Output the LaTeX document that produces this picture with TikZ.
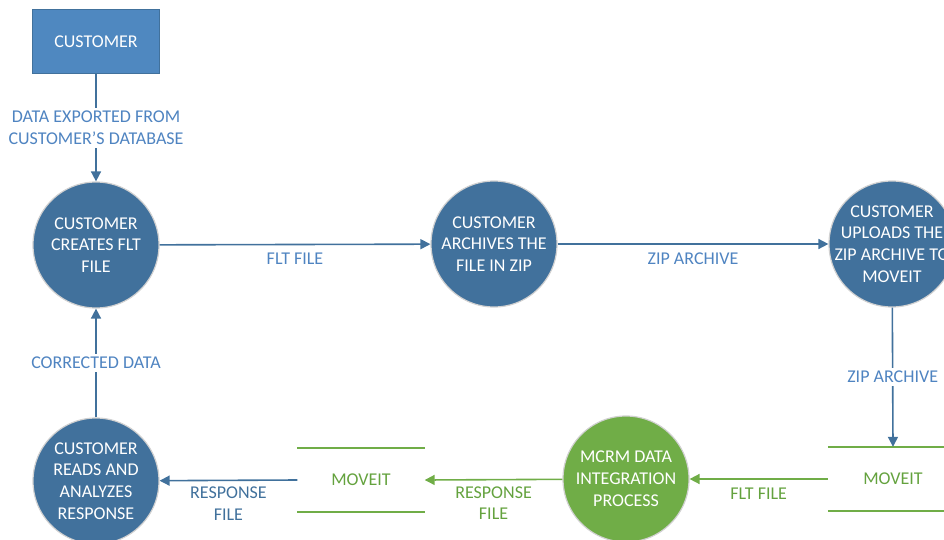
\documentclass[tikz,border=0pt]{standalone}
\usepackage{fontspec}
\setmainfont{Carlito}
\usetikzlibrary{arrows.meta}
\definecolor{procblue}{HTML}{41719C}
\definecolor{extblue}{HTML}{4F88C0}
\definecolor{lblblue}{HTML}{4F84C1}
\definecolor{procgreen}{HTML}{70AD47}
\definecolor{lblgreen}{HTML}{64A23E}

\begin{document}
\begin{tikzpicture}[
   x=1pt, y=-1pt,
   every node/.append style={align=center, font=\fontsize{18}{21.8}\selectfont},
   extent/.style={rectangle, fill=extblue, draw=procblue, line width=1pt,
                  minimum width=127pt, minimum height=64pt, text=white},
   proc/.style={circle, fill=procblue, draw=black!18, line width=1.2pt,
                minimum size=126pt, inner sep=0pt, text=white},
   greenproc/.style={proc, fill=procgreen},
   proctext/.style={text=white, inner sep=0pt},
   store/.style={minimum height=64pt, text=lblgreen},
   storeline/.style={draw=procgreen, line width=1.6pt},
   flow/.style={draw=procblue, line width=1.6pt, -{Triangle[length=10pt,width=10pt]}},
   greenflow/.style={flow, draw=procgreen},
   lbl/.style={text=lblblue, inner sep=2pt},
   lblv/.style={lbl, fill=white, inner sep=3pt}  % <-- breaks the vertical line
]
\useasboundingbox (0,0) rectangle (944,540);

% external entity and processes
\node[extent] (cust) at (96,42) {CUSTOMER};
\node[proc] (create) at (96,245) {CUSTOMER\\CREATES FLT\\FILE};
\node[proc] (archive) at (494,244) {CUSTOMER\\ARCHIVES THE\\FILE IN ZIP};
\node[proc] (upload) at (892,244) {};
\node[proctext] (uploadtxt) at (upload) {CUSTOMER\\UPLOADS THE\\ZIP ARCHIVE TO\\MOVEIT};  % <-- keeps circle size
\node[greenproc] (mcrm) at (626,479) {MCRM DATA\\INTEGRATION\\PROCESS};
\node[proc] (reads) at (96,481) {CUSTOMER\\READS AND\\ANALYZES\\RESPONSE};

% data stores
\node[store, minimum width=130pt] (moveitR) at (893,479) {MOVEIT};
\node[store, minimum width=127pt] (moveitL) at (361,480) {MOVEIT};
\draw[storeline] (moveitR.north west) -- (moveitR.north east)
                 (moveitR.south west) -- (moveitR.south east);
\draw[storeline] (moveitL.north west) -- (moveitL.north east)
                 (moveitL.south west) -- (moveitL.south east);

% flows
\draw[flow] (cust) -- node[lblv, midway] {DATA EXPORTED FROM\\CUSTOMER’S DATABASE} (create);
\draw[flow] (create) -- node[lbl, midway, below=6pt] {FLT FILE} (archive);
\draw[flow] (archive) -- node[lbl, midway, below=6pt] {ZIP ARCHIVE} (upload);
\draw[flow] (upload) -- node[lblv, midway] {ZIP ARCHIVE} (moveitR.north);
\draw[greenflow] (moveitR.west) -- node[lbl, text=lblgreen, midway, below=6pt] {FLT FILE} (mcrm);
\draw[greenflow] (mcrm) -- node[lbl, text=lblgreen, midway, below=4pt] {RESPONSE\\FILE} (moveitL.east);
\draw[flow] (moveitL.west) -- node[lbl, text=procblue, midway, below=4pt] {RESPONSE\\FILE} (reads);
\draw[flow] (reads) -- node[lblv, midway] {CORRECTED DATA} (create);
\end{tikzpicture}
\end{document}
